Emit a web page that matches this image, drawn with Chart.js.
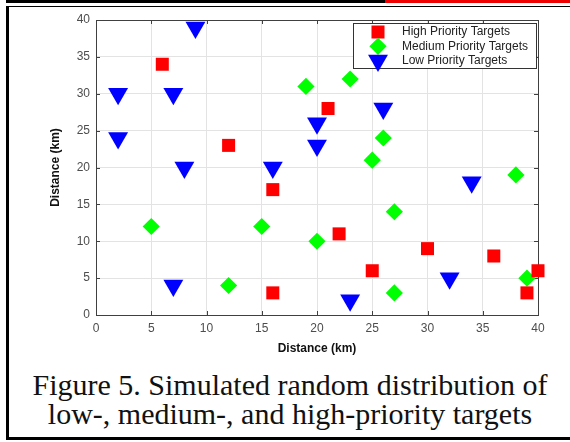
<!DOCTYPE html>
<html>
<head>
<meta charset="utf-8">
<script src="https://cdn.jsdelivr.net/npm/chart.js@4.4.1/dist/chart.umd.min.js"></script>
<style>
    html, body { margin: 0; padding: 0; background: #fff; }
    body { width: 570px; height: 442px; position: relative; overflow: hidden; }
    #chartBox { position: absolute; left: 0; top: 0; width: 570px; height: 365px; }
    .caption {
        position: absolute; left: 10px; right: 0; top: 370px;
        text-align: center; font-family: "Liberation Serif", serif;
        font-size: 30px; line-height: 29px; color: #111;
    }
    .rule { position: absolute; background: #000; }
</style>
</head>
<body>
<div id="chartBox"><canvas id="scatter"></canvas></div>
<div class="caption">Figure 5. Simulated random distribution of<br>low-, medium-, and high-priority targets</div>
<div class="rule" style="left:6px;top:0;width:379px;height:3px"></div>
<div class="rule" style="left:385px;top:0;width:185px;height:3px;background:#ee0000"></div>
<div class="rule" style="left:6px;top:6px;width:564px;height:1px"></div>
<div class="rule" style="left:6px;top:6px;width:3px;height:434px"></div>
<div class="rule" style="left:6px;top:437px;width:564px;height:3px"></div>
<script>
const seriesNames = ['High Priority Targets', 'Medium Priority Targets', 'Low Priority Targets'];

const highX = [6, 12, 16, 16, 21, 22, 25, 30, 36, 39, 40];
const highY = [34, 23, 17, 3, 28, 11, 6, 9, 8, 3, 6];

const mediumX = [5, 12, 15, 19, 20, 23, 25, 26, 27, 27, 38, 39];
const mediumY = [12, 4, 12, 31, 10, 32, 21, 24, 14, 3, 19, 5];

const lowX = [2, 2, 7, 7, 8, 9, 16, 20, 20, 23, 26, 32, 34];
const lowY = [30, 24, 30, 4, 20, 39, 20, 26, 23, 2, 28, 5, 18];

const axisTicks = [0, 5, 10, 15, 20, 25, 30, 35, 40];

const toPoints = (xs, ys) => xs.map((x, i) => ({ x: x, y: ys[i] }));

const markers = [
    { pointStyle: 'rect', radius: 9.2, rotation: 0, color: '#ff0000' },
    { pointStyle: 'rectRot', radius: 8.6, rotation: 0, color: '#00ff00' },
    { pointStyle: 'triangle', radius: 11.5, rotation: 180, color: '#0000ff' }
];

// MATLAB style box with inward ticks on all four sides
const boxFrame = {
    id: 'boxFrame',
    beforeDatasetsDraw(chart) {
        const { ctx, chartArea: a, scales: { x, y } } = chart;
        ctx.save();
        ctx.strokeStyle = '#404040';
        ctx.lineWidth = 1;
        ctx.strokeRect(a.left + 0.5, a.top + 0.5, a.right - a.left, a.bottom - a.top);
        ctx.beginPath();
        axisTicks.forEach(v => {
            const px = Math.round(x.getPixelForValue(v)) + 0.5;
            ctx.moveTo(px, a.top); ctx.lineTo(px, a.top + 4);
            ctx.moveTo(px, a.bottom); ctx.lineTo(px, a.bottom - 4);
            const py = Math.round(y.getPixelForValue(v)) + 0.5;
            ctx.moveTo(a.left, py); ctx.lineTo(a.left + 4, py);
            ctx.moveTo(a.right, py); ctx.lineTo(a.right - 4, py);
        });
        ctx.stroke();
        ctx.restore();
    }
};

const legendBox = {
    id: 'legendBox',
    afterDraw(chart) {
        const ctx = chart.ctx;
        const a = chart.chartArea;
        const left = a.right - 185, top = a.top + 3, w = 183, h = 45;
        ctx.save();
        ctx.fillStyle = '#fff';
        ctx.fillRect(left, top, w, h);
        ctx.strokeStyle = '#333';
        ctx.lineWidth = 1;
        ctx.strokeRect(left + 0.5, top + 0.5, w, h);
        ctx.font = '12px "Liberation Sans", Arial, sans-serif';
        ctx.textBaseline = 'middle';
        seriesNames.forEach((name, i) => {
            const rowY = top + 9 + i * 14.3;
            const m = markers[i];
            ctx.fillStyle = m.color;
            Chart.helpers.drawPoint(ctx, { pointStyle: m.pointStyle, radius: m.radius, rotation: m.rotation, borderWidth: 0 }, left + 25, rowY);
            ctx.fillStyle = '#222';
            ctx.fillText(name, left + 49, rowY);
        });
        ctx.restore();
    }
};

const datasets = [toPoints(highX, highY), toPoints(mediumX, mediumY), toPoints(lowX, lowY)].map((pts, i) => ({
    label: seriesNames[i],
    data: pts,
    pointStyle: markers[i].pointStyle,
    pointRadius: markers[i].radius,
    pointRotation: markers[i].rotation,
    backgroundColor: markers[i].color,
    borderColor: markers[i].color,
    borderWidth: 0,
    clip: false
}));

const tickFont = { family: '"Liberation Sans", Arial, sans-serif', size: 12 };
const titleFont = { family: '"Liberation Sans", Arial, sans-serif', size: 12, weight: 'bold' };

new Chart(document.getElementById('scatter'), {
    type: 'scatter',
    data: { datasets: datasets },
    options: {
        responsive: true,
        maintainAspectRatio: false,
        animation: false,
        layout: { padding: { left: 0, right: 32, top: 20, bottom: 0 } },
        plugins: {
            legend: { display: false },
            tooltip: { enabled: false }
        },
        scales: {
            x: {
                type: 'linear',
                min: 0,
                max: 40,
                grid: { color: '#e3e3e3', drawTicks: false },
                border: { display: false },
                ticks: { stepSize: 5, color: '#4d4d4d', font: tickFont, padding: 6, maxRotation: 0 },
                title: { display: true, text: 'Distance (km)', color: '#111', font: titleFont, padding: { top: 0, bottom: 9 } },
                afterFit: scale => { scale.height = 50; }
            },
            y: {
                type: 'linear',
                min: 0,
                max: 40,
                grid: { color: '#e3e3e3', drawTicks: false },
                border: { display: false },
                ticks: { stepSize: 5, color: '#4d4d4d', font: tickFont, padding: 6 },
                title: { display: true, text: 'Distance (km)', color: '#111', font: titleFont, padding: { top: 48, bottom: 0 } },
                afterFit: scale => { scale.width = 96; }
            }
        }
    },
    plugins: [boxFrame, legendBox]
});
</script>
</body>
</html>
